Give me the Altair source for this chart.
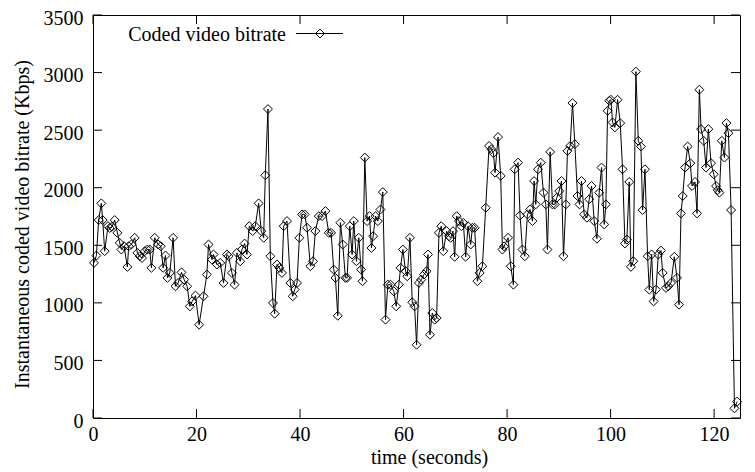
import altair as alt
import pandas as pd

# ---- data ----
times = [
    0.19, 0.65, 1.10, 1.61, 1.87, 2.26, 2.90, 3.23, 3.68, 4.19, 4.71, 5.16, 5.48, 6.00, 6.64,
    6.90, 7.42, 8.06, 8.58, 9.03, 9.48, 10.00, 10.50, 10.97, 11.29, 11.94, 12.58, 13.10, 13.55,
    14.00, 14.39, 14.84, 15.48, 15.93, 16.45, 17.10, 17.61, 18.19, 18.71, 19.16, 19.80, 20.50,
    21.35, 22.0, 22.32, 22.97, 23.29, 23.93, 24.58, 25.22, 25.87, 26.19, 26.84, 27.35, 27.8,
    28.45, 28.77, 29.29, 29.74, 30.19, 30.84, 31.35, 32.0, 32.51, 32.97, 33.29, 33.8, 34.26,
    34.77, 35.1, 35.55, 36.0, 36.51, 36.84, 37.48, 38.13, 38.58, 38.97, 39.42, 39.87, 40.39, 40.9,
    41.35, 42.0, 42.51, 42.96, 43.61, 44.25, 44.9, 45.54, 46.0, 46.51, 46.83, 47.29, 47.8, 48.25,
    48.77, 49.09, 49.61, 50.06, 50.38, 50.9, 51.35, 51.8, 52.06, 52.51, 52.96, 53.42, 53.8, 54.12,
    54.58, 55.03, 55.54, 55.99, 56.51, 56.96, 57.48, 58.12, 58.58, 59.09, 59.42, 59.87,
    60.39, 60.71, 61.23, 61.68, 62.13, 62.52, 62.97, 63.42, 63.94, 64.45, 64.71, 65.1, 65.55,
    66.0, 66.39, 66.84, 67.29, 67.68, 68.32, 68.77, 69.1, 69.55, 69.87, 70.26, 70.71, 71.16,
    71.55, 72.0, 72.45, 72.97, 73.29, 73.74, 74.26, 74.71, 75.23, 75.87, 76.52, 76.97, 77.36,
    77.68, 78.26, 78.77, 79.1, 79.42,
    80.19, 80.71, 81.22, 81.48, 82.12, 82.51, 82.96, 83.42, 83.93, 84.45, 84.9, 85.22, 85.54,
    85.98, 86.51, 87.03, 87.48, 87.8, 88.32, 88.77, 89.22, 89.61, 90.06, 90.51, 90.9, 91.35,
    91.67, 92.19, 92.64, 93.09, 93.61, 94.0, 94.38, 94.9, 95.42, 95.87, 96.32, 96.84, 97.35,
    97.8, 98.25, 98.77, 99.09, 99.42, 99.74,
    100.06, 100.38, 100.83, 101.35, 101.86, 102.31, 102.77, 103.15, 103.6, 103.93, 104.38,
    104.89, 105.35, 105.86, 106.18, 106.64, 107.15, 107.47, 107.93, 108.31, 108.77, 109.22,
    109.73, 110.06, 110.7, 111.15, 111.67, 112.31, 112.83, 113.22, 113.6, 113.93, 114.38,
    114.89, 115.41, 115.73, 116.31, 116.7, 117.15, 117.48, 117.99, 118.44, 118.89, 119.41,
    119.93, 120.38, 120.7, 121.02, 121.48, 121.99, 122.38, 122.77, 123.28, 123.93, 124.44,
]

bitrate = [
    1347, 1411, 1719, 1864, 1719, 1449, 1666, 1650, 1660, 1719, 1608, 1521, 1463, 1492, 1312,
    1492, 1507, 1565, 1434, 1405, 1390, 1449, 1463, 1463, 1304, 1565, 1507, 1492, 1304, 1411,
    1217, 1260, 1565, 1144, 1173, 1265, 1202, 1144, 970, 1013, 1063, 810,
    1057, 1246, 1507, 1376, 1420, 1333, 1347, 1173, 1420, 1405, 1260, 1158, 1434, 1361, 1463,
    1515, 1420, 1666, 1623, 1666, 1864, 1623, 1565, 2108, 2683, 1405, 999, 906, 1333, 1304,
    1260, 1666, 1710, 1173, 1057, 1115, 1173, 1565, 1768, 1768,
    1652, 1318, 1361, 1623, 1753, 1753, 1797, 1608, 1608, 1289, 1217, 888, 1696, 1507, 1217,
    1217, 1666, 1420, 1710, 1361, 1565, 1289, 1188, 2262, 1710, 1753, 1477, 1579, 1753, 1710,
    1811, 1962, 854, 1158, 1158, 1100, 970, 1158, 1304, 1463,
    1275, 1231, 1565, 1005, 970, 636, 1173, 1202, 1246, 1275, 1420, 723, 912, 854, 868, 1608,
    1666, 1449, 1623, 1579, 1565, 1623, 1400, 1753, 1710, 1666, 1695, 1400, 1666, 1507, 1652,
    1652, 1188, 1260, 1318, 1826, 2363, 2334, 2300, 2131, 2440, 2103, 1463, 1490,
    1565, 1318, 1158, 2160, 2218, 1759, 1463, 1405, 1768, 1811, 1710, 2058, 1855, 2160, 2218,
    1957, 1855, 1463, 2311, 1855, 1855, 1913, 1971, 2058, 1405, 1855, 2320, 2363, 2735, 2378,
    1928, 1855, 2058, 1768, 1739, 1900, 2015, 1710, 1557, 1957, 2175, 1681, 1855, 2668, 2755,
    2764, 2567, 2524, 2764, 2561, 2160, 1516, 1550, 2050, 1313, 1362, 3008, 2407, 2358, 1806,
    2160, 1405, 1115, 1420, 1013, 1115, 1420, 1454, 1260, 1130, 1144, 1173, 1400, 1217, 984,
    1777, 1928, 2175, 2358, 2213, 2015, 2050, 1777, 2851, 2509, 2407, 2175, 2509, 2213, 2117,
    2015, 1979, 1957, 2407, 2262, 2561, 2474, 1806, 84, 142,
]

x_ticks = [0, 20, 40, 60, 80, 100, 120]
y_ticks = [0, 500, 1000, 1500, 2000, 2500, 3000, 3500]
series_name = "Coded video bitrate"
x_title = "time (seconds)"
y_title = "Instantaneous coded video bitrate (Kbps)"

assert len(times) == len(bitrate)

df = pd.DataFrame({"time": times, "bitrate": bitrate})
xt = pd.DataFrame({"time": x_ticks})
yt = pd.DataFrame({"bitrate": y_ticks})

W, H = 647, 403
FONT = "Liberation Serif"
FS = 20
TL = 9  # inward tick length

xscale = alt.Scale(domain=[0, 125], nice=False, zero=False)
yscale = alt.Scale(domain=[0, 3500], nice=False)

xaxis = alt.Axis(values=x_ticks, format="d", title=x_title,
                 labelFont=FONT, labelFontSize=FS, labelColor="black",
                 titleFont=FONT, titleFontSize=FS, titleFontWeight="normal", titleColor="black",
                 labelBaseline="alphabetic", labelPadding=22,
                 labelFlush=False, labelOverlap=False, titleX=336, titleY=45,
                 titleBaseline="alphabetic", titleAlign="center")
yaxis = alt.Axis(values=y_ticks, format="d", title=y_title,
                 labelFont=FONT, labelFontSize=FS, labelColor="black",
                 titleFont=FONT, titleFontSize=FS, titleFontWeight="normal", titleColor="black",
                 labelPadding=10, labelBaseline="middle", labelOffset=3,
                 labelOverlap=False, labelFlush=False, titleX=-71, titleY=209, titleAngle=270,
                 titleAlign="center", titleBaseline="middle")

X = alt.X("time:Q", scale=xscale, axis=xaxis)
Y = alt.Y("bitrate:Q", scale=yscale, axis=yaxis)

line = alt.Chart(df).mark_line(color="black", strokeWidth=1).encode(x=X, y=Y)
pts = alt.Chart(df).mark_point(shape="diamond", filled=False, size=80, color="black",
                               strokeWidth=1, opacity=1).encode(x=X, y=Y)

bottom_ticks = alt.Chart(xt).mark_rule(color="black", strokeWidth=1).encode(
    x=X, y=alt.value(H - TL), y2=alt.value(H))
top_ticks = alt.Chart(xt).mark_rule(color="black", strokeWidth=1).encode(
    x=X, y=alt.value(0), y2=alt.value(TL))
left_ticks = alt.Chart(yt).mark_rule(color="black", strokeWidth=1).encode(
    y=Y, x=alt.value(0), x2=alt.value(TL))
right_ticks = alt.Chart(yt).mark_rule(color="black", strokeWidth=1).encode(
    y=Y, x=alt.value(W - TL), x2=alt.value(W))

one = alt.Data(values=[{"k": 0}])
leg_text = alt.Chart(one).mark_text(text=series_name, align="right", baseline="alphabetic",
                                    font=FONT, fontSize=FS, color="black").encode(
    x=alt.value(193), y=alt.value(26))
leg_line = alt.Chart(one).mark_rule(color="black", strokeWidth=1).encode(
    x=alt.value(203), x2=alt.value(250), y=alt.value(18.5))
leg_pt = alt.Chart(one).mark_point(shape="diamond", filled=False, size=80, color="black",
                                   strokeWidth=1, opacity=1).encode(
    x=alt.value(227), y=alt.value(18.5))

chart = alt.layer(
    bottom_ticks, top_ticks, left_ticks, right_ticks, line, pts, leg_line, leg_pt, leg_text
).properties(
    width=W, height=H,
    autosize=alt.AutoSizeParams(type="none"),
    padding={"left": 85, "top": 7, "right": 7, "bottom": 52},
    background="white",
).configure_view(
    stroke="black", strokeWidth=1
).configure_axis(
    domain=False, ticks=False, tickSize=0, grid=False,
)

chart.save("out.html", embed_options={"renderer": "svg", "actions": False})
